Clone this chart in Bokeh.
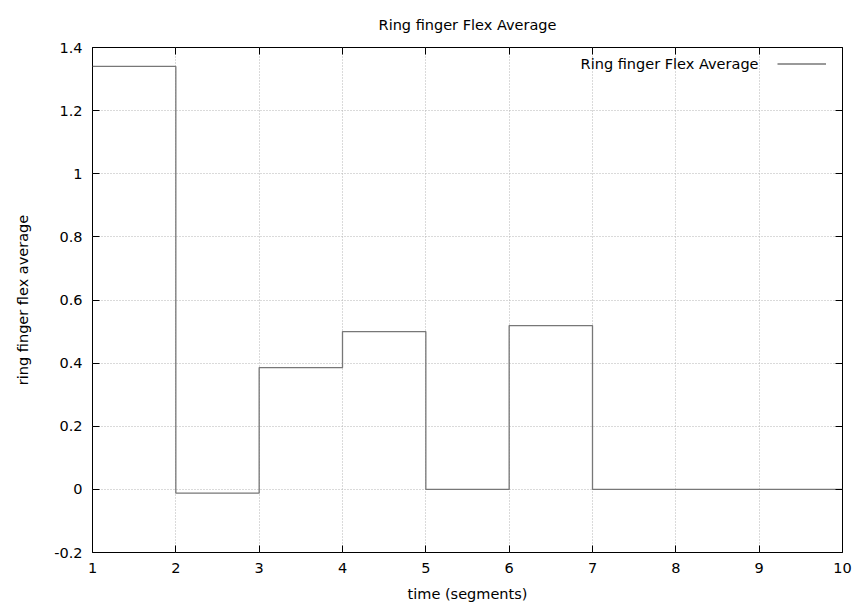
from bokeh.plotting import figure
from bokeh.models import (LinearAxis, FixedTicker, CustomJSTickFormatter, Legend,
                          LegendItem, Label, Range1d, Title)
from bokeh.core.properties import value
from bokeh.embed import file_html
from bokeh.resources import INLINE

# Data
segments = [1, 2, 3, 4, 5, 6, 7, 8, 9, 10]
flex_avg = [1.34, -0.012, 0.386, 0.5, 0.0, 0.519, 0.0, 0.0, 0.0, 0.0]
x_ticks = [1, 2, 3, 4, 5, 6, 7, 8, 9, 10]
y_ticks = [-0.2, 0.0, 0.2, 0.4, 0.6, 0.8, 1.0, 1.2, 1.4]
title_text = "Ring finger Flex Average"
series_name = "Ring finger Flex Average"
x_label = "time (segments)"
y_label = "ring finger flex average"

FONT = "DejaVu Sans"
FS = "14.5px"

p = figure(width=856, height=605, output_backend="svg", toolbar_location=None,
           x_range=Range1d(1, 10), y_range=Range1d(-0.2, 1.4),
           min_border_left=92, min_border_right=14, min_border_top=47, min_border_bottom=53)
p.background_fill_color = "white"
p.border_fill_color = "white"
p.outline_line_color = "black"
p.outline_line_width = 1

p.title = Title(text=title_text, align="center", text_font=FONT, text_font_size=FS,
                text_font_style="normal", text_color="black", standoff=29)

fmt = CustomJSTickFormatter(code="return Number(tick.toFixed(2)).toString();")
blank = CustomJSTickFormatter(code="return '';")

for ax in p.xaxis:
    ax.ticker = FixedTicker(ticks=x_ticks)
for ax in p.yaxis:
    ax.ticker = FixedTicker(ticks=y_ticks)
    ax.formatter = fmt

for ax in list(p.xaxis) + list(p.yaxis):
    ax.axis_line_color = None
    ax.major_tick_in = 7
    ax.major_tick_out = 0
    ax.major_tick_line_color = "black"
    ax.minor_tick_line_color = None
    ax.major_label_text_font = FONT
    ax.major_label_text_font_size = FS
    ax.major_label_text_color = "black"
    ax.major_label_standoff = 10
    ax.axis_label_text_font = FONT
    ax.axis_label_text_font_size = FS
    ax.axis_label_text_font_style = "normal"
    ax.axis_label_text_color = "black"

p.xaxis.axis_label = x_label
p.yaxis.axis_label = y_label
p.xaxis.axis_label_standoff = 10
p.yaxis.axis_label_standoff = 20

# mirrored ticks on top and right
top = LinearAxis(ticker=FixedTicker(ticks=x_ticks), formatter=blank, axis_line_color=None,
                 major_tick_in=7, major_tick_out=0, minor_tick_line_color=None,
                 major_label_text_font_size="1px", major_label_standoff=0)
right = LinearAxis(ticker=FixedTicker(ticks=y_ticks), formatter=blank, axis_line_color=None,
                   major_tick_in=7, major_tick_out=0, minor_tick_line_color=None,
                   major_label_text_font_size="1px", major_label_standoff=0)
p.add_layout(top, "above")
p.add_layout(right, "right")

p.xgrid.ticker = FixedTicker(ticks=x_ticks)
p.ygrid.ticker = FixedTicker(ticks=y_ticks)
for g in (p.xgrid, p.ygrid):
    g.grid_line_color = "#b4b4b4"
    g.grid_line_dash = "1 2"
    g.grid_line_width = 1

r = p.step(segments, flex_avg, mode="after", line_color="#777777", line_width=1.3)

legend = Legend(items=[LegendItem(label=value(" "), renderers=[r])],
                location="top_right", margin=0, padding=6, glyph_width=49, glyph_height=21,
                label_width=0, label_standoff=10, label_text_font=FONT, label_text_font_size=FS,
                border_line_alpha=0, background_fill_alpha=0)
p.add_layout(legend)

p.add_layout(Label(x=666, y=489, x_units="screen", y_units="screen", text=series_name,
                   text_align="right", text_baseline="middle", text_font=FONT,
                   text_font_size=FS, text_color="black"))

open("out.html", "w").write(file_html(p, INLINE))
